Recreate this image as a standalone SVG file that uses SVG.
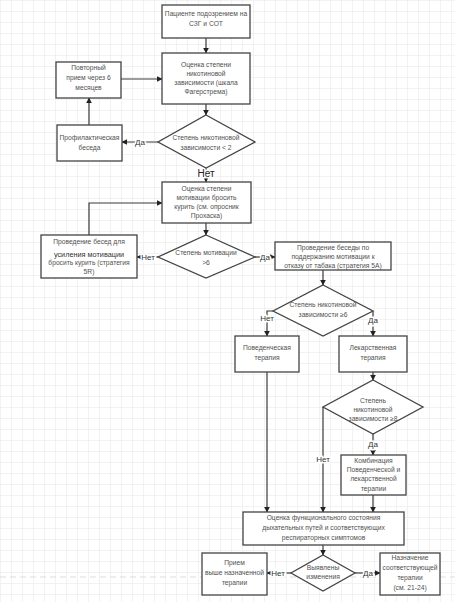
<svg xmlns="http://www.w3.org/2000/svg" width="455" height="602" viewBox="0 0 455 602">
<defs>
<pattern id="grid" width="11" height="11" patternUnits="userSpaceOnUse">
<path d="M11 0H0V11" fill="none" stroke="#e6e6e6" stroke-width="1"/>
</pattern>
<marker id="arr" viewBox="0 0 10 10" refX="9" refY="5" markerWidth="5" markerHeight="5" orient="auto">
<path d="M0 0L10 5L0 10z" fill="#222"/>
</marker>
<style>
.box{fill:#fff;stroke:#444;stroke-width:1.3}
.dia{fill:#fff;stroke:#444;stroke-width:1.3}
.t{font-family:"Liberation Sans",Arial,sans-serif;font-size:6.7px;fill:#505050;text-anchor:middle}
.lbl{font-family:"Liberation Sans",Arial,sans-serif;font-size:8px;fill:#333;text-anchor:middle;paint-order:stroke;stroke:#fff;stroke-width:3px}
.big{font-size:10px;fill:#222}
.c{fill:none;stroke:#333;stroke-width:1.2}
.ca{fill:none;stroke:#3a3a3a;stroke-width:1.2;marker-end:url(#arr)}
</style>
</defs>
<rect width="455" height="602" fill="#fff"/>
<rect width="455" height="602" fill="url(#grid)"/>
<line x1="0" y1="577" x2="455" y2="577" stroke="#ddd" stroke-width="1" stroke-dasharray="6 4"/>

<g id="connectors">
<path class="ca" d="M206,38 V53"/>
<path class="ca" d="M121,79 H162"/>
<path class="ca" d="M206,104 V115"/>
<path class="ca" d="M158,142 H122"/>
<path class="ca" d="M89,125 V98"/>
<path class="ca" d="M206,168 V182"/>
<path class="ca" d="M89,235 V203 H162"/>
<path class="ca" d="M206,223 V235"/>
<path class="ca" d="M158,257 H137"/>
<path class="ca" d="M255,257 H275"/>
<path class="ca" d="M323,270 V285"/>
<path class="ca" d="M273,311 H267 V336"/>
<path class="ca" d="M373,311 V336"/>
<path class="ca" d="M267,372 V512"/>
<path class="ca" d="M373,372 V380"/>
<path class="ca" d="M373,434 V455"/>
<path class="ca" d="M323,407 V512"/>
<path class="ca" d="M373,495 V512"/>
<path class="ca" d="M323,545 V555"/>
<path class="ca" d="M291,573 H267"/>
<path class="ca" d="M355,573 H380"/>
<text class="lbl" x="140" y="145">Да</text>
<text class="lbl big" x="206" y="177">Нет</text>
<text class="lbl" x="148" y="260">Нет</text>
<text class="lbl" x="265" y="260">Да</text>
<text class="lbl" x="267" y="321">Нет</text>
<text class="lbl" x="373" y="323">Да</text>
<text class="lbl" x="373" y="447">Да</text>
<text class="lbl" x="323" y="462">Нет</text>
<text class="lbl" x="278" y="576">Нет</text>
<text class="lbl" x="368" y="576">Да</text>
</g>

<g id="n1"><rect class="box" x="162" y="5" width="88" height="33"/>
<text class="t" x="206" y="16">Пациенте подозрением на</text>
<text class="t" x="206" y="26">СЗГ и СОТ</text></g>

<g id="n2"><rect class="box" x="162" y="53" width="88" height="51"/>
<text class="t" x="206" y="67">Оценка степени</text>
<text class="t" x="206" y="76">никотиновой</text>
<text class="t" x="206" y="85">зависимости (шкала</text>
<text class="t" x="206" y="94">Фагерстрема)</text></g>

<g id="n3"><rect class="box" x="56" y="62" width="65" height="36"/>
<text class="t" x="88.5" y="70">Повторный</text>
<text class="t" x="88.5" y="80">прием через 6</text>
<text class="t" x="88.5" y="90">месяцев</text></g>

<g id="n4"><polygon class="dia" points="206,115 255,142 206,168 158,142"/>
<text class="t" x="206" y="140">Степень никотиновой</text>
<text class="t" x="206" y="150">зависимости &lt; 2</text></g>

<g id="n5"><rect class="box" x="57" y="125" width="65" height="36"/>
<text class="t" x="89.5" y="140">Профилактическая</text>
<text class="t" x="89.5" y="150">беседа</text></g>

<g id="n6"><rect class="box" x="162" y="182" width="89" height="41"/>
<text class="t" x="206.5" y="191">Оценка степени</text>
<text class="t" x="206.5" y="200">мотивации бросить</text>
<text class="t" x="206.5" y="209">курить (см. опросник</text>
<text class="t" x="206.5" y="218">Прохаска)</text></g>

<g id="n7"><rect class="box" x="41" y="235" width="96" height="43"/>
<text class="t" x="89" y="244">Проведение бесед для</text>
<text class="t" x="89" y="257" style="font-size:7.3px;fill:#333">усиления мотивации</text>
<text class="t" x="89" y="265">бросить курить (стратегия</text>
<text class="t" x="89" y="274">5R)</text></g>

<g id="n8"><polygon class="dia" points="206,235 255,257 206,278 158,257"/>
<text class="t" x="206" y="255">Степень мотивации</text>
<text class="t" x="206" y="265">&gt;6</text></g>

<g id="n9"><rect class="box" x="275" y="242" width="116" height="28"/>
<text class="t" x="333" y="250">Проведение беседы по</text>
<text class="t" x="333" y="259">поддержанию мотивации к</text>
<text class="t" x="333" y="268">отказу от табака (стратегия 5А)</text></g>

<g id="n10"><polygon class="dia" points="323,285 373,311 323,336 273,311"/>
<text class="t" x="323" y="307">Степень никотиновой</text>
<text class="t" x="323" y="317">зависимости ≥6</text></g>

<g id="n11"><rect class="box" x="235" y="336" width="64" height="36"/>
<text class="t" x="267" y="350">Поведенческая</text>
<text class="t" x="267" y="360">терапия</text></g>

<g id="n12"><rect class="box" x="339" y="336" width="68" height="36"/>
<text class="t" x="373" y="350">Лекарственная</text>
<text class="t" x="373" y="360">терапия</text></g>

<g id="n13"><polygon class="dia" points="373,380 423,407 373,434 323,407"/>
<text class="t" x="373" y="403">Степень</text>
<text class="t" x="373" y="412">никотиновой</text>
<text class="t" x="373" y="421">зависимости ≥8</text></g>

<g id="n14"><rect class="box" x="341" y="455" width="65" height="40"/>
<text class="t" x="373.5" y="463">Комбинация</text>
<text class="t" x="373.5" y="472">Поведенческой и</text>
<text class="t" x="373.5" y="481">лекарственной</text>
<text class="t" x="373.5" y="491">терапии</text></g>

<g id="n15"><rect class="box" x="243" y="512" width="161" height="33"/>
<text class="t" x="323.5" y="520">Оценка функционального состояния</text>
<text class="t" x="323.5" y="530">дыхательных путей и соответствующих</text>
<text class="t" x="323.5" y="540">респираторных симптомов</text></g>

<g id="n16"><polygon class="dia" points="323,555 355,573 323,591 291,573"/>
<text class="t" x="323" y="570">Выявлены</text>
<text class="t" x="323" y="579">изменения</text></g>

<g id="n17"><rect class="box" x="202" y="553" width="65" height="42"/>
<text class="t" x="234.5" y="565">Прием</text>
<text class="t" x="234.5" y="575">выше назначенной</text>
<text class="t" x="234.5" y="585">терапии</text></g>

<g id="n18"><rect class="box" x="380" y="553" width="60" height="42"/>
<text class="t" x="410" y="560">Назначение</text>
<text class="t" x="410" y="570">соответствующей</text>
<text class="t" x="410" y="580">терапии</text>
<text class="t" x="410" y="590">(см. 21-24)</text></g>
</svg>
